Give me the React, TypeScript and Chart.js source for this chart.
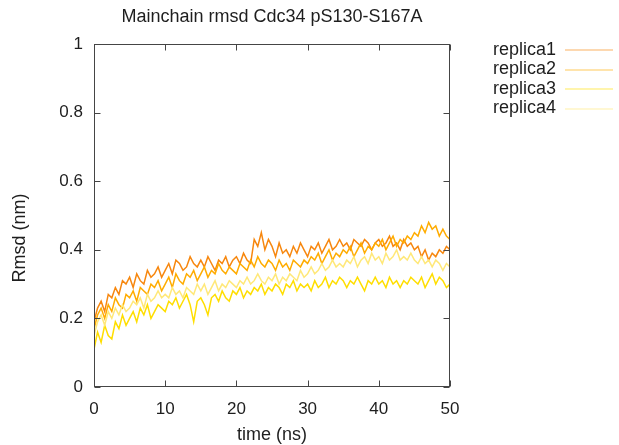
import { useEffect, useRef } from "react";
import { Chart, registerables } from "chart.js";

Chart.register(...registerables);

const TITLE = "Mainchain rmsd Cdc34 pS130-S167A";
const X_LABEL = "time (ns)";
const Y_LABEL = "Rmsd (nm)";
const SERIES_NAMES = ["replica1", "replica2", "replica3", "replica4"];
const SERIES_COLORS = ["#f7870e", "#ffac00", "#ffde00", "#ffe879"];
const X_TICKS = [0, 10, 20, 30, 40, 50];
const Y_TICKS = [0, 0.2, 0.4, 0.6, 0.8, 1];

const TIME = [
  0, 0.5, 1, 1.5, 2, 2.5, 3, 3.5, 4, 4.5,
  5, 5.5, 6, 6.5, 7, 7.5, 8, 8.5, 9, 9.5,
  10, 10.5, 11, 11.5, 12, 12.5, 13, 13.5, 14, 14.5,
  15, 15.5, 16, 16.5, 17, 17.5, 18, 18.5, 19, 19.5,
  20, 20.5, 21, 21.5, 22, 22.5, 23, 23.5, 24, 24.5,
  25, 25.5, 26, 26.5, 27, 27.5, 28, 28.5, 29, 29.5,
  30, 30.5, 31, 31.5, 32, 32.5, 33, 33.5, 34, 34.5,
  35, 35.5, 36, 36.5, 37, 37.5, 38, 38.5, 39, 39.5,
  40, 40.5, 41, 41.5, 42, 42.5, 43, 43.5, 44, 44.5,
  45, 45.5, 46, 46.5, 47, 47.5, 48, 48.5, 49, 49.5,
  50,
];

const REPLICA1 = [
  0.19, 0.23, 0.25, 0.22, 0.27, 0.26, 0.29, 0.27, 0.31, 0.30,
  0.32, 0.29, 0.33, 0.31, 0.30, 0.34, 0.32, 0.33, 0.35, 0.32,
  0.34, 0.36, 0.33, 0.37, 0.36, 0.34, 0.35, 0.38, 0.36, 0.35,
  0.37, 0.35, 0.38, 0.36, 0.34, 0.37, 0.36, 0.38, 0.35, 0.37,
  0.38, 0.36, 0.39, 0.37, 0.36, 0.43, 0.41, 0.45, 0.40, 0.43,
  0.41, 0.38, 0.42, 0.39, 0.40, 0.38, 0.41, 0.39, 0.42, 0.40,
  0.38, 0.41, 0.40, 0.42, 0.39, 0.41, 0.43, 0.40, 0.41, 0.43,
  0.41, 0.42, 0.40, 0.43, 0.42, 0.41, 0.43, 0.42, 0.40, 0.42,
  0.43, 0.41, 0.42, 0.44, 0.41, 0.42, 0.40, 0.43, 0.41, 0.42,
  0.40, 0.41, 0.38, 0.40, 0.37, 0.39, 0.38, 0.40, 0.39, 0.41,
  0.40,
];

const REPLICA2 = [
  0.17, 0.21, 0.23, 0.20, 0.24, 0.22, 0.26, 0.24, 0.23, 0.27,
  0.26, 0.28, 0.25, 0.29, 0.28, 0.27, 0.30, 0.29, 0.31, 0.28,
  0.30, 0.32, 0.29, 0.33, 0.31, 0.30, 0.33, 0.32, 0.34, 0.31,
  0.33, 0.35, 0.32, 0.34, 0.33, 0.36, 0.34, 0.33, 0.35, 0.34,
  0.33, 0.36, 0.35, 0.34, 0.37, 0.35, 0.38, 0.36, 0.35, 0.37,
  0.36, 0.34, 0.37, 0.35, 0.36, 0.34, 0.37, 0.36, 0.35, 0.37,
  0.36, 0.38, 0.37, 0.39, 0.36, 0.38, 0.40, 0.37, 0.39, 0.38,
  0.40, 0.39, 0.41, 0.38, 0.40, 0.42, 0.39, 0.41, 0.40, 0.42,
  0.41, 0.43, 0.40, 0.42, 0.44, 0.41, 0.43, 0.42, 0.44, 0.43,
  0.45, 0.44, 0.47, 0.45, 0.48, 0.46, 0.47, 0.44, 0.46, 0.44,
  0.43,
];

const REPLICA3 = [
  0.11, 0.16, 0.13, 0.18, 0.15, 0.14, 0.19, 0.17, 0.21, 0.18,
  0.20, 0.22, 0.19, 0.23, 0.21, 0.24, 0.20, 0.22, 0.24, 0.23,
  0.22, 0.25, 0.24, 0.26, 0.23, 0.25, 0.27, 0.24, 0.19, 0.25,
  0.26, 0.24, 0.21, 0.26, 0.27, 0.25, 0.28, 0.26, 0.25, 0.28,
  0.27, 0.29, 0.26, 0.28, 0.27, 0.29, 0.28, 0.30, 0.27, 0.29,
  0.28, 0.30, 0.29, 0.27, 0.30, 0.29, 0.31, 0.28, 0.30, 0.29,
  0.30, 0.28, 0.31, 0.29, 0.30, 0.32, 0.29, 0.31, 0.30, 0.32,
  0.31, 0.29, 0.31, 0.30, 0.32, 0.30, 0.28, 0.31, 0.30, 0.32,
  0.30, 0.31, 0.29, 0.32, 0.30, 0.31, 0.29, 0.31, 0.30, 0.32,
  0.31, 0.30, 0.32, 0.29, 0.31, 0.33, 0.30, 0.32, 0.31, 0.29,
  0.30,
];

const REPLICA4 = [
  0.15, 0.19, 0.21, 0.18, 0.22, 0.20, 0.23, 0.21, 0.24, 0.22,
  0.23, 0.25, 0.24, 0.26, 0.23, 0.27, 0.25, 0.26, 0.28, 0.26,
  0.27, 0.26, 0.29, 0.27, 0.28, 0.26, 0.29, 0.28, 0.27, 0.30,
  0.28, 0.30, 0.27, 0.29, 0.31, 0.28, 0.30, 0.29, 0.31, 0.30,
  0.29, 0.31, 0.30, 0.32, 0.30, 0.31, 0.33, 0.31, 0.30, 0.32,
  0.31, 0.33, 0.30, 0.32, 0.31, 0.33, 0.32, 0.31, 0.34, 0.32,
  0.33, 0.35, 0.33, 0.34, 0.36, 0.34, 0.35, 0.37, 0.35, 0.36,
  0.35, 0.37, 0.36, 0.38, 0.35, 0.37, 0.38, 0.36, 0.39, 0.37,
  0.38, 0.36, 0.39, 0.37, 0.38, 0.40, 0.37, 0.38, 0.37, 0.39,
  0.37, 0.36, 0.38, 0.36, 0.37, 0.35, 0.37, 0.36, 0.34, 0.36,
  0.35,
];

const SERIES = [REPLICA1, REPLICA2, REPLICA3, REPLICA4];

const FONT = '"Liberation Sans", Arial, Helvetica, sans-serif';
const TEXT_COLOR = "#1e1e1e";

const decorPlugin = {
  id: "decor",
  afterDraw(chart: any) {
    const { ctx, chartArea: a, scales } = chart;
    const xs = scales.x;
    const ys = scales.y;
    ctx.save();
    ctx.strokeStyle = "#454545";
    ctx.lineWidth = 1;
    const L = Math.round(a.left) + 0.5;
    const R = Math.round(a.right) - 0.5;
    const T = Math.round(a.top) + 0.5;
    const B = Math.round(a.bottom) - 0.5;
    ctx.strokeRect(L, T, R - L, B - T);
    ctx.beginPath();
    X_TICKS.forEach((v) => {
      const px = Math.round(xs.getPixelForValue(v)) + 0.5;
      ctx.moveTo(px, B);
      ctx.lineTo(px, B - 6);
      ctx.moveTo(px, T);
      ctx.lineTo(px, T + 6);
    });
    Y_TICKS.forEach((v) => {
      const py = Math.round(ys.getPixelForValue(v)) + 0.5;
      ctx.moveTo(L, py);
      ctx.lineTo(L + 6, py);
      ctx.moveTo(R, py);
      ctx.lineTo(R - 6, py);
    });
    ctx.stroke();

    ctx.fillStyle = TEXT_COLOR;
    ctx.font = `18px ${FONT}`;
    ctx.textAlign = "center";
    ctx.textBaseline = "middle";
    const cx = (a.left + a.right) / 2;
    ctx.fillText(TITLE, cx, 17);
    ctx.font = `18px ${FONT}`;
    ctx.fillText(X_LABEL, cx, 435);
    ctx.save();
    ctx.translate(20, 238);
    ctx.rotate(-Math.PI / 2);
    ctx.fillText(Y_LABEL, 0, 0);
    ctx.restore();

    SERIES_NAMES.forEach((name, i) => {
      const y = 50 + i * 19.5;
      ctx.textAlign = "right";
      ctx.fillStyle = TEXT_COLOR;
      ctx.fillText(name, 556, y);
      ctx.strokeStyle = SERIES_COLORS[i];
      ctx.globalAlpha = 0.65;
      ctx.beginPath();
      ctx.moveTo(565, Math.round(y));
      ctx.lineTo(613, Math.round(y));
      ctx.stroke();
      ctx.globalAlpha = 1;
    });
    ctx.restore();
  },
};

export default function App() {
  const ref = useRef<HTMLCanvasElement | null>(null);

  useEffect(() => {
    if (!ref.current) return;
    const chart = new Chart(ref.current, {
      type: "line",
      data: {
        datasets: SERIES.map((vals, i) => ({
          label: SERIES_NAMES[i],
          data: vals.map((v, j) => ({ x: TIME[j], y: v })),
          borderColor: SERIES_COLORS[i],
          backgroundColor: SERIES_COLORS[i],
          borderWidth: 1.5,
          pointRadius: 0,
          tension: 0,
          fill: false,
          order: SERIES.length - i,
        })),
      },
      options: {
        animation: false,
        responsive: true,
        maintainAspectRatio: false,
        events: [],
        layout: { padding: { top: 44, right: 169, left: 0, bottom: 0 } },
        plugins: {
          legend: { display: false },
          title: { display: false },
          tooltip: { enabled: false },
        },
        scales: {
          x: {
            type: "linear",
            min: 0,
            max: 50,
            grid: { display: false, drawTicks: false },
            border: { display: false },
            ticks: {
              stepSize: 10,
              padding: 12,
              color: TEXT_COLOR,
              font: { family: FONT, size: 17 },
              maxRotation: 0,
            },
            afterFit: (s: any) => {
              s.height = 58;
            },
          },
          y: {
            type: "linear",
            min: 0,
            max: 1,
            grid: { display: false, drawTicks: false },
            border: { display: false },
            ticks: {
              stepSize: 0.2,
              padding: 11,
              color: TEXT_COLOR,
              font: { family: FONT, size: 17 },
              callback: (v: any) => String(+Number(v).toFixed(1)),
            },
            afterFit: (s: any) => {
              s.width = 94;
            },
          },
        },
      },
      plugins: [decorPlugin],
    });
    return () => chart.destroy();
  }, []);

  return (
    <div
      style={{
        position: "fixed",
        left: 0,
        top: 0,
        width: 619,
        height: 445,
        background: "#ffffff",
      }}
    >
      <canvas ref={ref} />
    </div>
  );
}
